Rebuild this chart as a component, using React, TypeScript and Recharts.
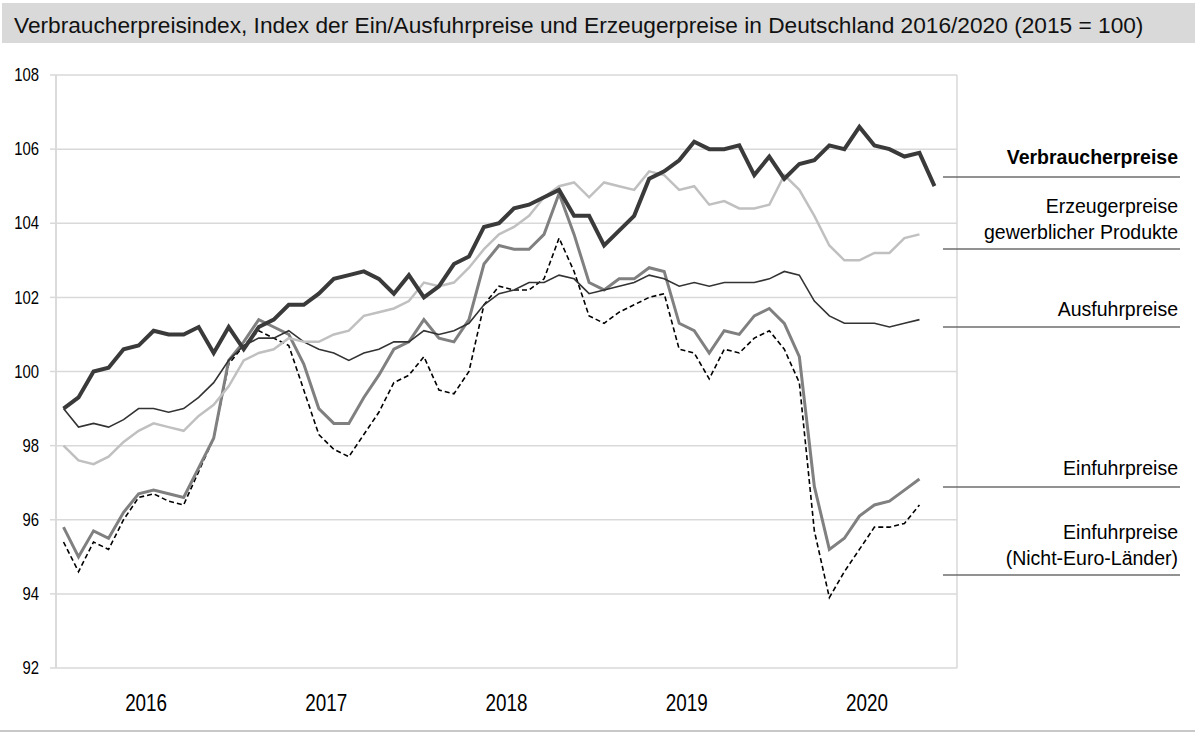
import React from "react";
import { LineChart, Line, XAxis, YAxis, CartesianGrid } from "recharts";

// monthly index values, Jan 2016 onwards (2015 = 100)
const years = ["2016", "2017", "2018", "2019", "2020"];

const verbraucher = [
  99.0, 99.3, 100.0, 100.1, 100.6, 100.7, 101.1, 101.0, 101.0, 101.2, 100.5, 101.2,
  100.6, 101.2, 101.4, 101.8, 101.8, 102.1, 102.5, 102.6, 102.7, 102.5, 102.1, 102.6,
  102.0, 102.3, 102.9, 103.1, 103.9, 104.0, 104.4, 104.5, 104.7, 104.9, 104.2, 104.2,
  103.4, 103.8, 104.2, 105.2, 105.4, 105.7, 106.2, 106.0, 106.0, 106.1, 105.3, 105.8,
  105.2, 105.6, 105.7, 106.1, 106.0, 106.6, 106.1, 106.0, 105.8, 105.9, 105.0,
];

const erzeuger = [
  98.0, 97.6, 97.5, 97.7, 98.1, 98.4, 98.6, 98.5, 98.4, 98.8, 99.1, 99.6,
  100.3, 100.5, 100.6, 100.9, 100.8, 100.8, 101.0, 101.1, 101.5, 101.6, 101.7, 101.9,
  102.4, 102.3, 102.4, 102.8, 103.3, 103.7, 103.9, 104.2, 104.7, 105.0, 105.1, 104.7,
  105.1, 105.0, 104.9, 105.4, 105.3, 104.9, 105.0, 104.5, 104.6, 104.4, 104.4, 104.5,
  105.3, 104.9, 104.2, 103.4, 103.0, 103.0, 103.2, 103.2, 103.6, 103.7,
];

const ausfuhr = [
  99.0, 98.5, 98.6, 98.5, 98.7, 99.0, 99.0, 98.9, 99.0, 99.3, 99.7, 100.3,
  100.7, 100.9, 100.9, 101.1, 100.8, 100.6, 100.5, 100.3, 100.5, 100.6, 100.8, 100.8,
  101.1, 101.0, 101.1, 101.3, 101.8, 102.1, 102.2, 102.4, 102.4, 102.6, 102.5, 102.1,
  102.2, 102.3, 102.4, 102.6, 102.5, 102.3, 102.4, 102.3, 102.4, 102.4, 102.4, 102.5,
  102.7, 102.6, 101.9, 101.5, 101.3, 101.3, 101.3, 101.2, 101.3, 101.4,
];

const einfuhr = [
  95.8, 95.0, 95.7, 95.5, 96.2, 96.7, 96.8, 96.7, 96.6, 97.4, 98.2, 100.3,
  100.8, 101.4, 101.2, 101.0, 100.2, 99.0, 98.6, 98.6, 99.3, 99.9, 100.6, 100.8,
  101.4, 100.9, 100.8, 101.4, 102.9, 103.4, 103.3, 103.3, 103.7, 104.8, 103.7, 102.4,
  102.2, 102.5, 102.5, 102.8, 102.7, 101.3, 101.1, 100.5, 101.1, 101.0, 101.5, 101.7,
  101.3, 100.4, 96.9, 95.2, 95.5, 96.1, 96.4, 96.5, 96.8, 97.1,
];

const einfuhrNichtEuro = [
  95.4, 94.6, 95.4, 95.2, 96.0, 96.6, 96.7, 96.5, 96.4, 97.3, 98.2, 100.2,
  100.7, 101.1, 100.9, 100.7, 99.5, 98.3, 97.9, 97.7, 98.3, 98.9, 99.7, 99.9,
  100.4, 99.5, 99.4, 100.0, 101.8, 102.3, 102.2, 102.2, 102.5, 103.6, 102.7, 101.5,
  101.3, 101.6, 101.8, 102.0, 102.1, 100.6, 100.5, 99.8, 100.6, 100.5, 100.9, 101.1,
  100.6, 99.7, 95.7, 93.9, 94.6, 95.2, 95.8, 95.8, 95.9, 96.4,
];

const yTicks = [92, 94, 96, 98, 100, 102, 104, 106, 108];

const FONT = "'Liberation Sans', Arial, Helvetica, sans-serif";
const GRID = "#d9d9d9";

// x = month index + 0.5 so each point sits in the middle of its month
const data = verbraucher.map((v, i) => ({
  t: i + 0.5,
  verbraucher: v,
  erzeuger: erzeuger[i],
  ausfuhr: ausfuhr[i],
  einfuhr: einfuhr[i],
  nichtEuro: einfuhrNichtEuro[i],
}));

const yearBounds = years.map((_, i) => i * 12).concat(years.length * 12);
const yearMids = years.map((_, i) => i * 12 + 6);

// axis labels in the original are set in a condensed face, so squeeze them a bit
function YearTick(props: any) {
  const { x, y, payload } = props;
  const label = years[Math.floor(payload.value / 12)];
  return (
    <text
      transform={`translate(${x},${y + 39}) scale(0.82,1)`}
      textAnchor="middle"
      fill="#000"
      fontSize={23}
      fontFamily={FONT}
    >
      {label}
    </text>
  );
}

function ValueTick(props: any) {
  const { x, y, payload } = props;
  return (
    <text
      transform={`translate(${x},${y}) scale(0.85,1)`}
      dy="0.355em"
      textAnchor="end"
      fill="#000"
      fontSize={17.5}
      fontFamily={FONT}
    >
      {payload.value}
    </text>
  );
}

const labels = [
  { lines: ["Verbraucherpreise"], bold: true, base: 164, rule: 177 },
  { lines: ["Erzeugerpreise", "gewerblicher Produkte"], bold: false, base: 213, rule: 249 },
  { lines: ["Ausfuhrpreise"], bold: false, base: 316, rule: 327 },
  { lines: ["Einfuhrpreise"], bold: false, base: 475, rule: 487 },
  { lines: ["Einfuhrpreise", "(Nicht-Euro-Länder)"], bold: false, base: 539, rule: 575 },
];

export default function App() {
  return (
    <div
      style={{
        position: "absolute",
        left: 0,
        top: 0,
        width: 1195,
        height: 733,
        background: "#fff",
        fontFamily: FONT,
      }}
    >
      <div
        style={{
          position: "absolute",
          left: 2,
          top: 3,
          width: 1193,
          height: 40,
          background: "#d9d9d9",
        }}
      />
      <div
        style={{
          position: "absolute",
          left: 14,
          top: 5,
          height: 40,
          lineHeight: "40px",
          fontSize: 22.7,
          color: "#111",
          whiteSpace: "nowrap",
        }}
      >
        Verbraucherpreisindex, Index der Ein/Ausfuhrpreise und Erzeugerpreise in Deutschland 2016/2020 (2015 = 100)
      </div>

      <div style={{ position: "absolute", left: 0, top: 0 }}>
        <LineChart
          width={1195}
          height={733}
          data={data}
          margin={{ top: 75, right: 238, bottom: 11, left: 0 }}
        >
          <CartesianGrid xAxisId="m" stroke={GRID} strokeWidth={1.5} />
          <XAxis
            xAxisId="m"
            type="number"
            dataKey="t"
            domain={[0, 60]}
            ticks={yearBounds}
            tick={false}
            axisLine={false}
            tickLine={{ stroke: GRID, strokeWidth: 1.5 }}
            tickSize={4}
            height={4}
          />
          <XAxis
            xAxisId="yr"
            type="number"
            dataKey="t"
            domain={[0, 60]}
            ticks={yearMids}
            tick={<YearTick />}
            axisLine={false}
            tickLine={false}
            tickSize={0}
            tickMargin={0}
            height={50}
          />
          <YAxis
            type="number"
            domain={[92, 108]}
            ticks={yTicks}
            width={56}
            axisLine={{ stroke: GRID, strokeWidth: 1.5 }}
            tickLine={{ stroke: GRID, strokeWidth: 1.5 }}
            tickSize={6}
            tickMargin={11}
            tick={<ValueTick />}
          />
          <Line
            xAxisId="m"
            dataKey="nichtEuro"
            stroke="#000"
            strokeWidth={1.6}
            strokeDasharray="5 3"
            dot={false}
            isAnimationActive={false}
          />
          <Line
            xAxisId="m"
            dataKey="einfuhr"
            stroke="#808080"
            strokeWidth={3}
            dot={false}
            isAnimationActive={false}
          />
          <Line
            xAxisId="m"
            dataKey="ausfuhr"
            stroke="#333"
            strokeWidth={1.6}
            dot={false}
            isAnimationActive={false}
          />
          <Line
            xAxisId="m"
            dataKey="erzeuger"
            stroke="#c0c0c0"
            strokeWidth={2.5}
            dot={false}
            isAnimationActive={false}
          />
          <Line
            xAxisId="m"
            dataKey="verbraucher"
            stroke="#3a3a3a"
            strokeWidth={4}
            dot={false}
            isAnimationActive={false}
          />
        </LineChart>
      </div>

      <svg
        width={1195}
        height={733}
        style={{ position: "absolute", left: 0, top: 0, pointerEvents: "none" }}
      >
        {labels.map((l) => (
          <g key={l.lines.join()}>
            {l.lines.map((s, j) => (
              <text
                key={s}
                x={1178}
                y={l.base + j * 26}
                textAnchor="end"
                fontSize={19.5}
                fontWeight={l.bold ? "bold" : "normal"}
                fontFamily={FONT}
                fill="#000"
              >
                {s}
              </text>
            ))}
            <line x1={943} x2={1180} y1={l.rule} y2={l.rule} stroke="#6e6e6e" strokeWidth={1.5} />
          </g>
        ))}
        <line x1={0} x2={1195} y1={731} y2={731} stroke="#c8c8c8" strokeWidth={2} />
      </svg>
    </div>
  );
}
